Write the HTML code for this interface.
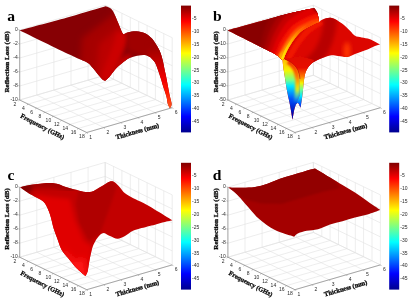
<!DOCTYPE html>
<html lang="en"><head><meta charset="utf-8"><title>Reflection loss 3D plots</title>
<style>html,body{margin:0;padding:0;background:#fff}
svg{display:block;filter:blur(0.4px)}
.tk text{font-family:"Liberation Sans",sans-serif;font-size:5.0px;fill:#2a2a2a}
.ax text{font-family:"Liberation Serif",serif;font-weight:bold;font-size:6.5px;fill:#0a0a0a;stroke:#0a0a0a;stroke-width:0.3px}
.pl{font-family:"Liberation Serif",serif;font-weight:bold;font-size:15.6px;fill:#000}
</style></head><body>
<svg width="409" height="300" viewBox="0 0 409 300">
<defs>
<linearGradient id="jet" x1="0" y1="0" x2="0" y2="1">
<stop offset="0" stop-color="#800000"/>
<stop offset="0.125" stop-color="#ff0000"/>
<stop offset="0.25" stop-color="#ff8000"/>
<stop offset="0.375" stop-color="#ffff00"/>
<stop offset="0.5" stop-color="#80ff80"/>
<stop offset="0.625" stop-color="#00ffff"/>
<stop offset="0.75" stop-color="#0080ff"/>
<stop offset="0.875" stop-color="#0000ff"/>
<stop offset="1" stop-color="#00008f"/>
</linearGradient>
<linearGradient id="tailA" gradientUnits="userSpaceOnUse" x1="0" y1="42" x2="0" y2="108">
<stop offset="0" stop-color="#9a0000" stop-opacity="0"/>
<stop offset="0.15" stop-color="#a80000"/>
<stop offset="0.35" stop-color="#cc0000"/>
<stop offset="0.55" stop-color="#ee0000"/>
<stop offset="0.75" stop-color="#ff1500"/>
<stop offset="1" stop-color="#ff5a20"/>
</linearGradient>
<linearGradient id="gb1" gradientUnits="userSpaceOnUse" x1="228" y1="30" x2="270.3" y2="71.1">
<stop offset="0" stop-color="#800000"/>
<stop offset="0.35" stop-color="#940000"/>
<stop offset="0.6" stop-color="#bc0000"/>
<stop offset="0.78" stop-color="#e40000"/>
<stop offset="0.9" stop-color="#ff2a00"/>
<stop offset="1" stop-color="#ff6000"/>
</linearGradient>
<linearGradient id="gcr" gradientUnits="userSpaceOnUse" x1="283" y1="60" x2="319" y2="22">
<stop offset="0" stop-color="#ffe400"/>
<stop offset="0.3" stop-color="#ffc000"/>
<stop offset="0.55" stop-color="#ff8000"/>
<stop offset="0.8" stop-color="#ff4000" stop-opacity="0.8"/>
<stop offset="1" stop-color="#ff2000" stop-opacity="0.3"/>
</linearGradient>
<linearGradient id="gcr2" gradientUnits="userSpaceOnUse" x1="283" y1="60" x2="319" y2="22">
<stop offset="0" stop-color="#ffa000"/>
<stop offset="0.35" stop-color="#ff8000" stop-opacity="0.85"/>
<stop offset="0.7" stop-color="#ff5000" stop-opacity="0.3"/>
<stop offset="1" stop-color="#ff3000" stop-opacity="0"/>
</linearGradient>
<linearGradient id="gfold" gradientUnits="userSpaceOnUse" x1="0" y1="60" x2="0" y2="104">
<stop offset="0" stop-color="#f02800"/>
<stop offset="0.34" stop-color="#ff6800"/>
<stop offset="0.55" stop-color="#ffc000"/>
<stop offset="0.68" stop-color="#f0f000" stop-opacity="0.9"/>
<stop offset="0.84" stop-color="#70ff90" stop-opacity="0.5"/>
<stop offset="1" stop-color="#00e8ff" stop-opacity="0"/>
</linearGradient>
<linearGradient id="spikeL" gradientUnits="userSpaceOnUse" x1="0" y1="54" x2="0" y2="120">
<stop offset="0" stop-color="#ff9800"/>
<stop offset="0.12" stop-color="#ffc800"/>
<stop offset="0.25" stop-color="#f4f400"/>
<stop offset="0.40" stop-color="#70ff90"/>
<stop offset="0.485" stop-color="#00e8ff"/>
<stop offset="0.68" stop-color="#0050ff"/>
<stop offset="0.93" stop-color="#0000a8"/>
</linearGradient>
<linearGradient id="spikeR" gradientUnits="userSpaceOnUse" x1="0" y1="54" x2="0" y2="120">
<stop offset="0" stop-color="#dc0600"/>
<stop offset="0.21" stop-color="#e81000"/>
<stop offset="0.34" stop-color="#ff7800"/>
<stop offset="0.44" stop-color="#f4f400"/>
<stop offset="0.54" stop-color="#70ff90"/>
<stop offset="0.64" stop-color="#00e8ff"/>
<stop offset="0.76" stop-color="#0050ff"/>
<stop offset="0.92" stop-color="#0000b0"/>
</linearGradient>
<filter id="bb16" x="-30%" y="-30%" width="160%" height="160%"><feGaussianBlur stdDeviation="1.6"/></filter>
<filter id="bb14" x="-30%" y="-30%" width="160%" height="160%"><feGaussianBlur stdDeviation="1.4"/></filter>
<filter id="bb12" x="-30%" y="-30%" width="160%" height="160%"><feGaussianBlur stdDeviation="1.2"/></filter>
<filter id="bb10" x="-30%" y="-30%" width="160%" height="160%"><feGaussianBlur stdDeviation="1.0"/></filter>
<filter id="bb9" x="-30%" y="-30%" width="160%" height="160%"><feGaussianBlur stdDeviation="0.9"/></filter>
<filter id="bb8" x="-30%" y="-30%" width="160%" height="160%"><feGaussianBlur stdDeviation="0.8"/></filter>
<filter id="bb7" x="-30%" y="-30%" width="160%" height="160%"><feGaussianBlur stdDeviation="0.7"/></filter>
<filter id="b05" x="-20%" y="-20%" width="140%" height="140%"><feGaussianBlur stdDeviation="0.5"/></filter>
<filter id="b1" x="-20%" y="-20%" width="140%" height="140%"><feGaussianBlur stdDeviation="1"/></filter>
<filter id="b2" x="-30%" y="-30%" width="160%" height="160%"><feGaussianBlur stdDeviation="2"/></filter>
<filter id="b3" x="-40%" y="-40%" width="180%" height="180%"><feGaussianBlur stdDeviation="3"/></filter>
<filter id="b4" x="-50%" y="-50%" width="200%" height="200%"><feGaussianBlur stdDeviation="4"/></filter>
</defs>
<rect width="409" height="300" fill="#fff"/>
<g transform="translate(0 0)">
<g fill="none" stroke-linecap="butt">
<line x1="19.7" y1="30" x2="105.2" y2="5.2" stroke="#e0e0e0" stroke-width="0.6"/>
<line x1="105.2" y1="5.2" x2="172.2" y2="37.7" stroke="#e0e0e0" stroke-width="0.6"/>
<line x1="19.7" y1="44" x2="105.2" y2="19.2" stroke="#e0e0e0" stroke-width="0.6"/>
<line x1="105.2" y1="19.2" x2="172.2" y2="51.7" stroke="#e0e0e0" stroke-width="0.6"/>
<line x1="19.7" y1="58" x2="105.2" y2="33.2" stroke="#e0e0e0" stroke-width="0.6"/>
<line x1="105.2" y1="33.2" x2="172.2" y2="65.7" stroke="#e0e0e0" stroke-width="0.6"/>
<line x1="19.7" y1="72" x2="105.2" y2="47.2" stroke="#e0e0e0" stroke-width="0.6"/>
<line x1="105.2" y1="47.2" x2="172.2" y2="79.7" stroke="#e0e0e0" stroke-width="0.6"/>
<line x1="19.7" y1="86" x2="105.2" y2="61.2" stroke="#e0e0e0" stroke-width="0.6"/>
<line x1="105.2" y1="61.2" x2="172.2" y2="93.7" stroke="#e0e0e0" stroke-width="0.6"/>
<line x1="19.7" y1="100" x2="105.2" y2="75.2" stroke="#e0e0e0" stroke-width="0.6"/>
<line x1="105.2" y1="75.2" x2="172.2" y2="107.7" stroke="#e0e0e0" stroke-width="0.6"/>
<line x1="19.7" y1="30" x2="19.7" y2="100" stroke="#e0e0e0" stroke-width="0.6"/>
<line x1="19.7" y1="100" x2="86.7" y2="132.5" stroke="#e0e0e0" stroke-width="0.6"/>
<line x1="36.8" y1="25" x2="36.8" y2="95" stroke="#e0e0e0" stroke-width="0.6"/>
<line x1="36.8" y1="95" x2="103.8" y2="127.5" stroke="#e0e0e0" stroke-width="0.6"/>
<line x1="53.9" y1="20.1" x2="53.9" y2="90.1" stroke="#e0e0e0" stroke-width="0.6"/>
<line x1="53.9" y1="90.1" x2="120.9" y2="122.6" stroke="#e0e0e0" stroke-width="0.6"/>
<line x1="71" y1="15.1" x2="71" y2="85.1" stroke="#e0e0e0" stroke-width="0.6"/>
<line x1="71" y1="85.1" x2="138" y2="117.6" stroke="#e0e0e0" stroke-width="0.6"/>
<line x1="88.1" y1="10.2" x2="88.1" y2="80.2" stroke="#e0e0e0" stroke-width="0.6"/>
<line x1="88.1" y1="80.2" x2="155.1" y2="112.7" stroke="#e0e0e0" stroke-width="0.6"/>
<line x1="105.2" y1="5.2" x2="105.2" y2="75.2" stroke="#e0e0e0" stroke-width="0.6"/>
<line x1="105.2" y1="75.2" x2="172.2" y2="107.7" stroke="#e0e0e0" stroke-width="0.6"/>
<line x1="105.2" y1="5.2" x2="105.2" y2="75.2" stroke="#e0e0e0" stroke-width="0.6"/>
<line x1="19.7" y1="100" x2="105.2" y2="75.2" stroke="#e0e0e0" stroke-width="0.6"/>
<line x1="113.6" y1="9.3" x2="113.6" y2="79.3" stroke="#e0e0e0" stroke-width="0.6"/>
<line x1="28.1" y1="104.1" x2="113.6" y2="79.3" stroke="#e0e0e0" stroke-width="0.6"/>
<line x1="121.9" y1="13.3" x2="121.9" y2="83.3" stroke="#e0e0e0" stroke-width="0.6"/>
<line x1="36.5" y1="108.1" x2="121.9" y2="83.3" stroke="#e0e0e0" stroke-width="0.6"/>
<line x1="130.3" y1="17.4" x2="130.3" y2="87.4" stroke="#e0e0e0" stroke-width="0.6"/>
<line x1="44.8" y1="112.2" x2="130.3" y2="87.4" stroke="#e0e0e0" stroke-width="0.6"/>
<line x1="138.7" y1="21.5" x2="138.7" y2="91.5" stroke="#e0e0e0" stroke-width="0.6"/>
<line x1="53.2" y1="116.2" x2="138.7" y2="91.5" stroke="#e0e0e0" stroke-width="0.6"/>
<line x1="147.1" y1="25.5" x2="147.1" y2="95.5" stroke="#e0e0e0" stroke-width="0.6"/>
<line x1="61.6" y1="120.3" x2="147.1" y2="95.5" stroke="#e0e0e0" stroke-width="0.6"/>
<line x1="155.4" y1="29.6" x2="155.4" y2="99.6" stroke="#e0e0e0" stroke-width="0.6"/>
<line x1="70" y1="124.4" x2="155.4" y2="99.6" stroke="#e0e0e0" stroke-width="0.6"/>
<line x1="163.8" y1="33.6" x2="163.8" y2="103.6" stroke="#e0e0e0" stroke-width="0.6"/>
<line x1="78.3" y1="128.4" x2="163.8" y2="103.6" stroke="#e0e0e0" stroke-width="0.6"/>
<line x1="172.2" y1="37.7" x2="172.2" y2="107.7" stroke="#e0e0e0" stroke-width="0.6"/>
<line x1="86.7" y1="132.5" x2="172.2" y2="107.7" stroke="#e0e0e0" stroke-width="0.6"/>
<line x1="19.7" y1="30" x2="19.7" y2="100" stroke="#868686" stroke-width="0.7"/>
<line x1="19.7" y1="100" x2="86.7" y2="132.5" stroke="#868686" stroke-width="0.7"/>
<line x1="86.7" y1="132.5" x2="172.2" y2="107.7" stroke="#868686" stroke-width="0.7"/>
<line x1="18.2" y1="29.5" x2="19.7" y2="30" stroke="#868686" stroke-width="0.5"/>
<line x1="18.2" y1="43.5" x2="19.7" y2="44" stroke="#868686" stroke-width="0.5"/>
<line x1="18.2" y1="57.5" x2="19.7" y2="58" stroke="#868686" stroke-width="0.5"/>
<line x1="18.2" y1="71.5" x2="19.7" y2="72" stroke="#868686" stroke-width="0.5"/>
<line x1="18.2" y1="85.5" x2="19.7" y2="86" stroke="#868686" stroke-width="0.5"/>
<line x1="18.2" y1="99.5" x2="19.7" y2="100" stroke="#868686" stroke-width="0.5"/>
<line x1="19.7" y1="100" x2="18.4" y2="101" stroke="#868686" stroke-width="0.5"/>
<line x1="28.1" y1="104.1" x2="26.8" y2="105.1" stroke="#868686" stroke-width="0.5"/>
<line x1="36.5" y1="108.1" x2="35.2" y2="109.1" stroke="#868686" stroke-width="0.5"/>
<line x1="44.8" y1="112.2" x2="43.5" y2="113.2" stroke="#868686" stroke-width="0.5"/>
<line x1="53.2" y1="116.2" x2="51.9" y2="117.2" stroke="#868686" stroke-width="0.5"/>
<line x1="61.6" y1="120.3" x2="60.3" y2="121.3" stroke="#868686" stroke-width="0.5"/>
<line x1="70" y1="124.4" x2="68.7" y2="125.4" stroke="#868686" stroke-width="0.5"/>
<line x1="78.3" y1="128.4" x2="77" y2="129.4" stroke="#868686" stroke-width="0.5"/>
<line x1="86.7" y1="132.5" x2="85.4" y2="133.5" stroke="#868686" stroke-width="0.5"/>
<line x1="86.7" y1="132.5" x2="87.9" y2="133.7" stroke="#868686" stroke-width="0.5"/>
<line x1="103.8" y1="127.5" x2="105" y2="128.7" stroke="#868686" stroke-width="0.5"/>
<line x1="120.9" y1="122.6" x2="122.1" y2="123.8" stroke="#868686" stroke-width="0.5"/>
<line x1="138" y1="117.6" x2="139.2" y2="118.8" stroke="#868686" stroke-width="0.5"/>
<line x1="155.1" y1="112.7" x2="156.3" y2="113.9" stroke="#868686" stroke-width="0.5"/>
<line x1="172.2" y1="107.7" x2="173.4" y2="108.9" stroke="#868686" stroke-width="0.5"/>
</g>
<g class="tk">
<text x="17.7" y="31.3" text-anchor="end">0</text>
<text x="17.7" y="45.3" text-anchor="end">-2</text>
<text x="17.7" y="59.3" text-anchor="end">-4</text>
<text x="17.7" y="73.3" text-anchor="end">-6</text>
<text x="17.7" y="87.3" text-anchor="end">-8</text>
<text x="17.7" y="101.3" text-anchor="end">-10</text>
<text x="14.9" y="105.8" text-anchor="middle">2</text>
<text x="23.3" y="109.9" text-anchor="middle">4</text>
<text x="31.7" y="113.9" text-anchor="middle">6</text>
<text x="40" y="118" text-anchor="middle">8</text>
<text x="48.4" y="122" text-anchor="middle">10</text>
<text x="56.8" y="126.1" text-anchor="middle">12</text>
<text x="65.2" y="130.2" text-anchor="middle">14</text>
<text x="73.5" y="134.2" text-anchor="middle">16</text>
<text x="81.9" y="138.3" text-anchor="middle">18</text>
<text x="90.7" y="138.7" text-anchor="middle">1</text>
<text x="107.8" y="133.7" text-anchor="middle">2</text>
<text x="124.9" y="128.8" text-anchor="middle">3</text>
<text x="142" y="123.8" text-anchor="middle">4</text>
<text x="159.1" y="118.9" text-anchor="middle">5</text>
<text x="176.2" y="113.9" text-anchor="middle">6</text>
</g>
<g class="ax">
<text transform="translate(9.3 61.8) rotate(-90)" text-anchor="middle" style="font-size:7.1px">Reflection Loss (dB)</text>
<text transform="translate(41.5 128.5) rotate(27.5)" text-anchor="middle">Frequency (GHz)</text>
<text transform="translate(138 133.2) rotate(-16)" text-anchor="middle">Thickness (mm)</text>
</g>
<rect x="181" y="5.6" width="10" height="126.8" fill="url(#jet)"/>
<g class="tk">
<text x="192.1" y="19.7">-5</text>
<text x="192.1" y="32.6">-10</text>
<text x="192.1" y="45.6">-15</text>
<text x="192.1" y="58.5">-20</text>
<text x="192.1" y="71.5">-25</text>
<text x="192.1" y="84.4">-30</text>
<text x="192.1" y="97.4">-35</text>
<text x="192.1" y="110.3">-40</text>
<text x="192.1" y="123.3">-45</text>
</g>
</g>
<g transform="translate(208.2 0)">
<g fill="none" stroke-linecap="butt">
<line x1="19.7" y1="30" x2="105.2" y2="5.2" stroke="#e0e0e0" stroke-width="0.6"/>
<line x1="105.2" y1="5.2" x2="172.2" y2="37.7" stroke="#e0e0e0" stroke-width="0.6"/>
<line x1="19.7" y1="44" x2="105.2" y2="19.2" stroke="#e0e0e0" stroke-width="0.6"/>
<line x1="105.2" y1="19.2" x2="172.2" y2="51.7" stroke="#e0e0e0" stroke-width="0.6"/>
<line x1="19.7" y1="58" x2="105.2" y2="33.2" stroke="#e0e0e0" stroke-width="0.6"/>
<line x1="105.2" y1="33.2" x2="172.2" y2="65.7" stroke="#e0e0e0" stroke-width="0.6"/>
<line x1="19.7" y1="72" x2="105.2" y2="47.2" stroke="#e0e0e0" stroke-width="0.6"/>
<line x1="105.2" y1="47.2" x2="172.2" y2="79.7" stroke="#e0e0e0" stroke-width="0.6"/>
<line x1="19.7" y1="86" x2="105.2" y2="61.2" stroke="#e0e0e0" stroke-width="0.6"/>
<line x1="105.2" y1="61.2" x2="172.2" y2="93.7" stroke="#e0e0e0" stroke-width="0.6"/>
<line x1="19.7" y1="100" x2="105.2" y2="75.2" stroke="#e0e0e0" stroke-width="0.6"/>
<line x1="105.2" y1="75.2" x2="172.2" y2="107.7" stroke="#e0e0e0" stroke-width="0.6"/>
<line x1="19.7" y1="30" x2="19.7" y2="100" stroke="#e0e0e0" stroke-width="0.6"/>
<line x1="19.7" y1="100" x2="86.7" y2="132.5" stroke="#e0e0e0" stroke-width="0.6"/>
<line x1="36.8" y1="25" x2="36.8" y2="95" stroke="#e0e0e0" stroke-width="0.6"/>
<line x1="36.8" y1="95" x2="103.8" y2="127.5" stroke="#e0e0e0" stroke-width="0.6"/>
<line x1="53.9" y1="20.1" x2="53.9" y2="90.1" stroke="#e0e0e0" stroke-width="0.6"/>
<line x1="53.9" y1="90.1" x2="120.9" y2="122.6" stroke="#e0e0e0" stroke-width="0.6"/>
<line x1="71" y1="15.1" x2="71" y2="85.1" stroke="#e0e0e0" stroke-width="0.6"/>
<line x1="71" y1="85.1" x2="138" y2="117.6" stroke="#e0e0e0" stroke-width="0.6"/>
<line x1="88.1" y1="10.2" x2="88.1" y2="80.2" stroke="#e0e0e0" stroke-width="0.6"/>
<line x1="88.1" y1="80.2" x2="155.1" y2="112.7" stroke="#e0e0e0" stroke-width="0.6"/>
<line x1="105.2" y1="5.2" x2="105.2" y2="75.2" stroke="#e0e0e0" stroke-width="0.6"/>
<line x1="105.2" y1="75.2" x2="172.2" y2="107.7" stroke="#e0e0e0" stroke-width="0.6"/>
<line x1="105.2" y1="5.2" x2="105.2" y2="75.2" stroke="#e0e0e0" stroke-width="0.6"/>
<line x1="19.7" y1="100" x2="105.2" y2="75.2" stroke="#e0e0e0" stroke-width="0.6"/>
<line x1="113.6" y1="9.3" x2="113.6" y2="79.3" stroke="#e0e0e0" stroke-width="0.6"/>
<line x1="28.1" y1="104.1" x2="113.6" y2="79.3" stroke="#e0e0e0" stroke-width="0.6"/>
<line x1="121.9" y1="13.3" x2="121.9" y2="83.3" stroke="#e0e0e0" stroke-width="0.6"/>
<line x1="36.5" y1="108.1" x2="121.9" y2="83.3" stroke="#e0e0e0" stroke-width="0.6"/>
<line x1="130.3" y1="17.4" x2="130.3" y2="87.4" stroke="#e0e0e0" stroke-width="0.6"/>
<line x1="44.8" y1="112.2" x2="130.3" y2="87.4" stroke="#e0e0e0" stroke-width="0.6"/>
<line x1="138.7" y1="21.5" x2="138.7" y2="91.5" stroke="#e0e0e0" stroke-width="0.6"/>
<line x1="53.2" y1="116.2" x2="138.7" y2="91.5" stroke="#e0e0e0" stroke-width="0.6"/>
<line x1="147.1" y1="25.5" x2="147.1" y2="95.5" stroke="#e0e0e0" stroke-width="0.6"/>
<line x1="61.6" y1="120.3" x2="147.1" y2="95.5" stroke="#e0e0e0" stroke-width="0.6"/>
<line x1="155.4" y1="29.6" x2="155.4" y2="99.6" stroke="#e0e0e0" stroke-width="0.6"/>
<line x1="70" y1="124.4" x2="155.4" y2="99.6" stroke="#e0e0e0" stroke-width="0.6"/>
<line x1="163.8" y1="33.6" x2="163.8" y2="103.6" stroke="#e0e0e0" stroke-width="0.6"/>
<line x1="78.3" y1="128.4" x2="163.8" y2="103.6" stroke="#e0e0e0" stroke-width="0.6"/>
<line x1="172.2" y1="37.7" x2="172.2" y2="107.7" stroke="#e0e0e0" stroke-width="0.6"/>
<line x1="86.7" y1="132.5" x2="172.2" y2="107.7" stroke="#e0e0e0" stroke-width="0.6"/>
<line x1="19.7" y1="30" x2="19.7" y2="100" stroke="#868686" stroke-width="0.7"/>
<line x1="19.7" y1="100" x2="86.7" y2="132.5" stroke="#868686" stroke-width="0.7"/>
<line x1="86.7" y1="132.5" x2="172.2" y2="107.7" stroke="#868686" stroke-width="0.7"/>
<line x1="18.2" y1="29.5" x2="19.7" y2="30" stroke="#868686" stroke-width="0.5"/>
<line x1="18.2" y1="43.5" x2="19.7" y2="44" stroke="#868686" stroke-width="0.5"/>
<line x1="18.2" y1="57.5" x2="19.7" y2="58" stroke="#868686" stroke-width="0.5"/>
<line x1="18.2" y1="71.5" x2="19.7" y2="72" stroke="#868686" stroke-width="0.5"/>
<line x1="18.2" y1="85.5" x2="19.7" y2="86" stroke="#868686" stroke-width="0.5"/>
<line x1="18.2" y1="99.5" x2="19.7" y2="100" stroke="#868686" stroke-width="0.5"/>
<line x1="19.7" y1="100" x2="18.4" y2="101" stroke="#868686" stroke-width="0.5"/>
<line x1="28.1" y1="104.1" x2="26.8" y2="105.1" stroke="#868686" stroke-width="0.5"/>
<line x1="36.5" y1="108.1" x2="35.2" y2="109.1" stroke="#868686" stroke-width="0.5"/>
<line x1="44.8" y1="112.2" x2="43.5" y2="113.2" stroke="#868686" stroke-width="0.5"/>
<line x1="53.2" y1="116.2" x2="51.9" y2="117.2" stroke="#868686" stroke-width="0.5"/>
<line x1="61.6" y1="120.3" x2="60.3" y2="121.3" stroke="#868686" stroke-width="0.5"/>
<line x1="70" y1="124.4" x2="68.7" y2="125.4" stroke="#868686" stroke-width="0.5"/>
<line x1="78.3" y1="128.4" x2="77" y2="129.4" stroke="#868686" stroke-width="0.5"/>
<line x1="86.7" y1="132.5" x2="85.4" y2="133.5" stroke="#868686" stroke-width="0.5"/>
<line x1="86.7" y1="132.5" x2="87.9" y2="133.7" stroke="#868686" stroke-width="0.5"/>
<line x1="103.8" y1="127.5" x2="105" y2="128.7" stroke="#868686" stroke-width="0.5"/>
<line x1="120.9" y1="122.6" x2="122.1" y2="123.8" stroke="#868686" stroke-width="0.5"/>
<line x1="138" y1="117.6" x2="139.2" y2="118.8" stroke="#868686" stroke-width="0.5"/>
<line x1="155.1" y1="112.7" x2="156.3" y2="113.9" stroke="#868686" stroke-width="0.5"/>
<line x1="172.2" y1="107.7" x2="173.4" y2="108.9" stroke="#868686" stroke-width="0.5"/>
</g>
<g class="tk">
<text x="17.7" y="31.3" text-anchor="end">0</text>
<text x="17.7" y="45.3" text-anchor="end">-10</text>
<text x="17.7" y="59.3" text-anchor="end">-20</text>
<text x="17.7" y="73.3" text-anchor="end">-30</text>
<text x="17.7" y="87.3" text-anchor="end">-40</text>
<text x="17.7" y="101.3" text-anchor="end">-50</text>
<text x="14.9" y="105.8" text-anchor="middle">2</text>
<text x="23.3" y="109.9" text-anchor="middle">4</text>
<text x="31.7" y="113.9" text-anchor="middle">6</text>
<text x="40" y="118" text-anchor="middle">8</text>
<text x="48.4" y="122" text-anchor="middle">10</text>
<text x="56.8" y="126.1" text-anchor="middle">12</text>
<text x="65.2" y="130.2" text-anchor="middle">14</text>
<text x="73.5" y="134.2" text-anchor="middle">16</text>
<text x="81.9" y="138.3" text-anchor="middle">18</text>
<text x="90.7" y="138.7" text-anchor="middle">1</text>
<text x="107.8" y="133.7" text-anchor="middle">2</text>
<text x="124.9" y="128.8" text-anchor="middle">3</text>
<text x="142" y="123.8" text-anchor="middle">4</text>
<text x="159.1" y="118.9" text-anchor="middle">5</text>
<text x="176.2" y="113.9" text-anchor="middle">6</text>
</g>
<g class="ax">
<text transform="translate(9.3 61.8) rotate(-90)" text-anchor="middle" style="font-size:7.1px">Reflection Loss (dB)</text>
<text transform="translate(41.5 128.5) rotate(27.5)" text-anchor="middle">Frequency (GHz)</text>
<text transform="translate(138 133.2) rotate(-16)" text-anchor="middle">Thickness (mm)</text>
</g>
<rect x="181" y="5.6" width="10" height="126.8" fill="url(#jet)"/>
<g class="tk">
<text x="192.1" y="19.7">-5</text>
<text x="192.1" y="32.6">-10</text>
<text x="192.1" y="45.6">-15</text>
<text x="192.1" y="58.5">-20</text>
<text x="192.1" y="71.5">-25</text>
<text x="192.1" y="84.4">-30</text>
<text x="192.1" y="97.4">-35</text>
<text x="192.1" y="110.3">-40</text>
<text x="192.1" y="123.3">-45</text>
</g>
</g>
<g transform="translate(0 157.2)">
<g fill="none" stroke-linecap="butt">
<line x1="19.7" y1="30" x2="105.2" y2="5.2" stroke="#e0e0e0" stroke-width="0.6"/>
<line x1="105.2" y1="5.2" x2="172.2" y2="37.7" stroke="#e0e0e0" stroke-width="0.6"/>
<line x1="19.7" y1="44" x2="105.2" y2="19.2" stroke="#e0e0e0" stroke-width="0.6"/>
<line x1="105.2" y1="19.2" x2="172.2" y2="51.7" stroke="#e0e0e0" stroke-width="0.6"/>
<line x1="19.7" y1="58" x2="105.2" y2="33.2" stroke="#e0e0e0" stroke-width="0.6"/>
<line x1="105.2" y1="33.2" x2="172.2" y2="65.7" stroke="#e0e0e0" stroke-width="0.6"/>
<line x1="19.7" y1="72" x2="105.2" y2="47.2" stroke="#e0e0e0" stroke-width="0.6"/>
<line x1="105.2" y1="47.2" x2="172.2" y2="79.7" stroke="#e0e0e0" stroke-width="0.6"/>
<line x1="19.7" y1="86" x2="105.2" y2="61.2" stroke="#e0e0e0" stroke-width="0.6"/>
<line x1="105.2" y1="61.2" x2="172.2" y2="93.7" stroke="#e0e0e0" stroke-width="0.6"/>
<line x1="19.7" y1="100" x2="105.2" y2="75.2" stroke="#e0e0e0" stroke-width="0.6"/>
<line x1="105.2" y1="75.2" x2="172.2" y2="107.7" stroke="#e0e0e0" stroke-width="0.6"/>
<line x1="19.7" y1="30" x2="19.7" y2="100" stroke="#e0e0e0" stroke-width="0.6"/>
<line x1="19.7" y1="100" x2="86.7" y2="132.5" stroke="#e0e0e0" stroke-width="0.6"/>
<line x1="36.8" y1="25" x2="36.8" y2="95" stroke="#e0e0e0" stroke-width="0.6"/>
<line x1="36.8" y1="95" x2="103.8" y2="127.5" stroke="#e0e0e0" stroke-width="0.6"/>
<line x1="53.9" y1="20.1" x2="53.9" y2="90.1" stroke="#e0e0e0" stroke-width="0.6"/>
<line x1="53.9" y1="90.1" x2="120.9" y2="122.6" stroke="#e0e0e0" stroke-width="0.6"/>
<line x1="71" y1="15.1" x2="71" y2="85.1" stroke="#e0e0e0" stroke-width="0.6"/>
<line x1="71" y1="85.1" x2="138" y2="117.6" stroke="#e0e0e0" stroke-width="0.6"/>
<line x1="88.1" y1="10.2" x2="88.1" y2="80.2" stroke="#e0e0e0" stroke-width="0.6"/>
<line x1="88.1" y1="80.2" x2="155.1" y2="112.7" stroke="#e0e0e0" stroke-width="0.6"/>
<line x1="105.2" y1="5.2" x2="105.2" y2="75.2" stroke="#e0e0e0" stroke-width="0.6"/>
<line x1="105.2" y1="75.2" x2="172.2" y2="107.7" stroke="#e0e0e0" stroke-width="0.6"/>
<line x1="105.2" y1="5.2" x2="105.2" y2="75.2" stroke="#e0e0e0" stroke-width="0.6"/>
<line x1="19.7" y1="100" x2="105.2" y2="75.2" stroke="#e0e0e0" stroke-width="0.6"/>
<line x1="113.6" y1="9.3" x2="113.6" y2="79.3" stroke="#e0e0e0" stroke-width="0.6"/>
<line x1="28.1" y1="104.1" x2="113.6" y2="79.3" stroke="#e0e0e0" stroke-width="0.6"/>
<line x1="121.9" y1="13.3" x2="121.9" y2="83.3" stroke="#e0e0e0" stroke-width="0.6"/>
<line x1="36.5" y1="108.1" x2="121.9" y2="83.3" stroke="#e0e0e0" stroke-width="0.6"/>
<line x1="130.3" y1="17.4" x2="130.3" y2="87.4" stroke="#e0e0e0" stroke-width="0.6"/>
<line x1="44.8" y1="112.2" x2="130.3" y2="87.4" stroke="#e0e0e0" stroke-width="0.6"/>
<line x1="138.7" y1="21.5" x2="138.7" y2="91.5" stroke="#e0e0e0" stroke-width="0.6"/>
<line x1="53.2" y1="116.2" x2="138.7" y2="91.5" stroke="#e0e0e0" stroke-width="0.6"/>
<line x1="147.1" y1="25.5" x2="147.1" y2="95.5" stroke="#e0e0e0" stroke-width="0.6"/>
<line x1="61.6" y1="120.3" x2="147.1" y2="95.5" stroke="#e0e0e0" stroke-width="0.6"/>
<line x1="155.4" y1="29.6" x2="155.4" y2="99.6" stroke="#e0e0e0" stroke-width="0.6"/>
<line x1="70" y1="124.4" x2="155.4" y2="99.6" stroke="#e0e0e0" stroke-width="0.6"/>
<line x1="163.8" y1="33.6" x2="163.8" y2="103.6" stroke="#e0e0e0" stroke-width="0.6"/>
<line x1="78.3" y1="128.4" x2="163.8" y2="103.6" stroke="#e0e0e0" stroke-width="0.6"/>
<line x1="172.2" y1="37.7" x2="172.2" y2="107.7" stroke="#e0e0e0" stroke-width="0.6"/>
<line x1="86.7" y1="132.5" x2="172.2" y2="107.7" stroke="#e0e0e0" stroke-width="0.6"/>
<line x1="19.7" y1="30" x2="19.7" y2="100" stroke="#868686" stroke-width="0.7"/>
<line x1="19.7" y1="100" x2="86.7" y2="132.5" stroke="#868686" stroke-width="0.7"/>
<line x1="86.7" y1="132.5" x2="172.2" y2="107.7" stroke="#868686" stroke-width="0.7"/>
<line x1="18.2" y1="29.5" x2="19.7" y2="30" stroke="#868686" stroke-width="0.5"/>
<line x1="18.2" y1="43.5" x2="19.7" y2="44" stroke="#868686" stroke-width="0.5"/>
<line x1="18.2" y1="57.5" x2="19.7" y2="58" stroke="#868686" stroke-width="0.5"/>
<line x1="18.2" y1="71.5" x2="19.7" y2="72" stroke="#868686" stroke-width="0.5"/>
<line x1="18.2" y1="85.5" x2="19.7" y2="86" stroke="#868686" stroke-width="0.5"/>
<line x1="18.2" y1="99.5" x2="19.7" y2="100" stroke="#868686" stroke-width="0.5"/>
<line x1="19.7" y1="100" x2="18.4" y2="101" stroke="#868686" stroke-width="0.5"/>
<line x1="28.1" y1="104.1" x2="26.8" y2="105.1" stroke="#868686" stroke-width="0.5"/>
<line x1="36.5" y1="108.1" x2="35.2" y2="109.1" stroke="#868686" stroke-width="0.5"/>
<line x1="44.8" y1="112.2" x2="43.5" y2="113.2" stroke="#868686" stroke-width="0.5"/>
<line x1="53.2" y1="116.2" x2="51.9" y2="117.2" stroke="#868686" stroke-width="0.5"/>
<line x1="61.6" y1="120.3" x2="60.3" y2="121.3" stroke="#868686" stroke-width="0.5"/>
<line x1="70" y1="124.4" x2="68.7" y2="125.4" stroke="#868686" stroke-width="0.5"/>
<line x1="78.3" y1="128.4" x2="77" y2="129.4" stroke="#868686" stroke-width="0.5"/>
<line x1="86.7" y1="132.5" x2="85.4" y2="133.5" stroke="#868686" stroke-width="0.5"/>
<line x1="86.7" y1="132.5" x2="87.9" y2="133.7" stroke="#868686" stroke-width="0.5"/>
<line x1="103.8" y1="127.5" x2="105" y2="128.7" stroke="#868686" stroke-width="0.5"/>
<line x1="120.9" y1="122.6" x2="122.1" y2="123.8" stroke="#868686" stroke-width="0.5"/>
<line x1="138" y1="117.6" x2="139.2" y2="118.8" stroke="#868686" stroke-width="0.5"/>
<line x1="155.1" y1="112.7" x2="156.3" y2="113.9" stroke="#868686" stroke-width="0.5"/>
<line x1="172.2" y1="107.7" x2="173.4" y2="108.9" stroke="#868686" stroke-width="0.5"/>
</g>
<g class="tk">
<text x="17.7" y="31.3" text-anchor="end">0</text>
<text x="17.7" y="45.3" text-anchor="end">-2</text>
<text x="17.7" y="59.3" text-anchor="end">-4</text>
<text x="17.7" y="73.3" text-anchor="end">-6</text>
<text x="17.7" y="87.3" text-anchor="end">-8</text>
<text x="17.7" y="101.3" text-anchor="end">-10</text>
<text x="14.9" y="105.8" text-anchor="middle">2</text>
<text x="23.3" y="109.9" text-anchor="middle">4</text>
<text x="31.7" y="113.9" text-anchor="middle">6</text>
<text x="40" y="118" text-anchor="middle">8</text>
<text x="48.4" y="122" text-anchor="middle">10</text>
<text x="56.8" y="126.1" text-anchor="middle">12</text>
<text x="65.2" y="130.2" text-anchor="middle">14</text>
<text x="73.5" y="134.2" text-anchor="middle">16</text>
<text x="81.9" y="138.3" text-anchor="middle">18</text>
<text x="90.7" y="138.7" text-anchor="middle">1</text>
<text x="107.8" y="133.7" text-anchor="middle">2</text>
<text x="124.9" y="128.8" text-anchor="middle">3</text>
<text x="142" y="123.8" text-anchor="middle">4</text>
<text x="159.1" y="118.9" text-anchor="middle">5</text>
<text x="176.2" y="113.9" text-anchor="middle">6</text>
</g>
<g class="ax">
<text transform="translate(9.3 61.8) rotate(-90)" text-anchor="middle" style="font-size:7.1px">Reflection Loss (dB)</text>
<text transform="translate(41.5 128.5) rotate(27.5)" text-anchor="middle">Frequency (GHz)</text>
<text transform="translate(138 133.2) rotate(-16)" text-anchor="middle">Thickness (mm)</text>
</g>
<rect x="181" y="5.6" width="10" height="126.8" fill="url(#jet)"/>
<g class="tk">
<text x="192.1" y="19.7">-5</text>
<text x="192.1" y="32.6">-10</text>
<text x="192.1" y="45.6">-15</text>
<text x="192.1" y="58.5">-20</text>
<text x="192.1" y="71.5">-25</text>
<text x="192.1" y="84.4">-30</text>
<text x="192.1" y="97.4">-35</text>
<text x="192.1" y="110.3">-40</text>
<text x="192.1" y="123.3">-45</text>
</g>
</g>
<g transform="translate(208.2 157.2)">
<g fill="none" stroke-linecap="butt">
<line x1="19.7" y1="30" x2="105.2" y2="5.2" stroke="#e0e0e0" stroke-width="0.6"/>
<line x1="105.2" y1="5.2" x2="172.2" y2="37.7" stroke="#e0e0e0" stroke-width="0.6"/>
<line x1="19.7" y1="44" x2="105.2" y2="19.2" stroke="#e0e0e0" stroke-width="0.6"/>
<line x1="105.2" y1="19.2" x2="172.2" y2="51.7" stroke="#e0e0e0" stroke-width="0.6"/>
<line x1="19.7" y1="58" x2="105.2" y2="33.2" stroke="#e0e0e0" stroke-width="0.6"/>
<line x1="105.2" y1="33.2" x2="172.2" y2="65.7" stroke="#e0e0e0" stroke-width="0.6"/>
<line x1="19.7" y1="72" x2="105.2" y2="47.2" stroke="#e0e0e0" stroke-width="0.6"/>
<line x1="105.2" y1="47.2" x2="172.2" y2="79.7" stroke="#e0e0e0" stroke-width="0.6"/>
<line x1="19.7" y1="86" x2="105.2" y2="61.2" stroke="#e0e0e0" stroke-width="0.6"/>
<line x1="105.2" y1="61.2" x2="172.2" y2="93.7" stroke="#e0e0e0" stroke-width="0.6"/>
<line x1="19.7" y1="100" x2="105.2" y2="75.2" stroke="#e0e0e0" stroke-width="0.6"/>
<line x1="105.2" y1="75.2" x2="172.2" y2="107.7" stroke="#e0e0e0" stroke-width="0.6"/>
<line x1="19.7" y1="30" x2="19.7" y2="100" stroke="#e0e0e0" stroke-width="0.6"/>
<line x1="19.7" y1="100" x2="86.7" y2="132.5" stroke="#e0e0e0" stroke-width="0.6"/>
<line x1="36.8" y1="25" x2="36.8" y2="95" stroke="#e0e0e0" stroke-width="0.6"/>
<line x1="36.8" y1="95" x2="103.8" y2="127.5" stroke="#e0e0e0" stroke-width="0.6"/>
<line x1="53.9" y1="20.1" x2="53.9" y2="90.1" stroke="#e0e0e0" stroke-width="0.6"/>
<line x1="53.9" y1="90.1" x2="120.9" y2="122.6" stroke="#e0e0e0" stroke-width="0.6"/>
<line x1="71" y1="15.1" x2="71" y2="85.1" stroke="#e0e0e0" stroke-width="0.6"/>
<line x1="71" y1="85.1" x2="138" y2="117.6" stroke="#e0e0e0" stroke-width="0.6"/>
<line x1="88.1" y1="10.2" x2="88.1" y2="80.2" stroke="#e0e0e0" stroke-width="0.6"/>
<line x1="88.1" y1="80.2" x2="155.1" y2="112.7" stroke="#e0e0e0" stroke-width="0.6"/>
<line x1="105.2" y1="5.2" x2="105.2" y2="75.2" stroke="#e0e0e0" stroke-width="0.6"/>
<line x1="105.2" y1="75.2" x2="172.2" y2="107.7" stroke="#e0e0e0" stroke-width="0.6"/>
<line x1="105.2" y1="5.2" x2="105.2" y2="75.2" stroke="#e0e0e0" stroke-width="0.6"/>
<line x1="19.7" y1="100" x2="105.2" y2="75.2" stroke="#e0e0e0" stroke-width="0.6"/>
<line x1="113.6" y1="9.3" x2="113.6" y2="79.3" stroke="#e0e0e0" stroke-width="0.6"/>
<line x1="28.1" y1="104.1" x2="113.6" y2="79.3" stroke="#e0e0e0" stroke-width="0.6"/>
<line x1="121.9" y1="13.3" x2="121.9" y2="83.3" stroke="#e0e0e0" stroke-width="0.6"/>
<line x1="36.5" y1="108.1" x2="121.9" y2="83.3" stroke="#e0e0e0" stroke-width="0.6"/>
<line x1="130.3" y1="17.4" x2="130.3" y2="87.4" stroke="#e0e0e0" stroke-width="0.6"/>
<line x1="44.8" y1="112.2" x2="130.3" y2="87.4" stroke="#e0e0e0" stroke-width="0.6"/>
<line x1="138.7" y1="21.5" x2="138.7" y2="91.5" stroke="#e0e0e0" stroke-width="0.6"/>
<line x1="53.2" y1="116.2" x2="138.7" y2="91.5" stroke="#e0e0e0" stroke-width="0.6"/>
<line x1="147.1" y1="25.5" x2="147.1" y2="95.5" stroke="#e0e0e0" stroke-width="0.6"/>
<line x1="61.6" y1="120.3" x2="147.1" y2="95.5" stroke="#e0e0e0" stroke-width="0.6"/>
<line x1="155.4" y1="29.6" x2="155.4" y2="99.6" stroke="#e0e0e0" stroke-width="0.6"/>
<line x1="70" y1="124.4" x2="155.4" y2="99.6" stroke="#e0e0e0" stroke-width="0.6"/>
<line x1="163.8" y1="33.6" x2="163.8" y2="103.6" stroke="#e0e0e0" stroke-width="0.6"/>
<line x1="78.3" y1="128.4" x2="163.8" y2="103.6" stroke="#e0e0e0" stroke-width="0.6"/>
<line x1="172.2" y1="37.7" x2="172.2" y2="107.7" stroke="#e0e0e0" stroke-width="0.6"/>
<line x1="86.7" y1="132.5" x2="172.2" y2="107.7" stroke="#e0e0e0" stroke-width="0.6"/>
<line x1="19.7" y1="30" x2="19.7" y2="100" stroke="#868686" stroke-width="0.7"/>
<line x1="19.7" y1="100" x2="86.7" y2="132.5" stroke="#868686" stroke-width="0.7"/>
<line x1="86.7" y1="132.5" x2="172.2" y2="107.7" stroke="#868686" stroke-width="0.7"/>
<line x1="18.2" y1="29.5" x2="19.7" y2="30" stroke="#868686" stroke-width="0.5"/>
<line x1="18.2" y1="43.5" x2="19.7" y2="44" stroke="#868686" stroke-width="0.5"/>
<line x1="18.2" y1="57.5" x2="19.7" y2="58" stroke="#868686" stroke-width="0.5"/>
<line x1="18.2" y1="71.5" x2="19.7" y2="72" stroke="#868686" stroke-width="0.5"/>
<line x1="18.2" y1="85.5" x2="19.7" y2="86" stroke="#868686" stroke-width="0.5"/>
<line x1="18.2" y1="99.5" x2="19.7" y2="100" stroke="#868686" stroke-width="0.5"/>
<line x1="19.7" y1="100" x2="18.4" y2="101" stroke="#868686" stroke-width="0.5"/>
<line x1="28.1" y1="104.1" x2="26.8" y2="105.1" stroke="#868686" stroke-width="0.5"/>
<line x1="36.5" y1="108.1" x2="35.2" y2="109.1" stroke="#868686" stroke-width="0.5"/>
<line x1="44.8" y1="112.2" x2="43.5" y2="113.2" stroke="#868686" stroke-width="0.5"/>
<line x1="53.2" y1="116.2" x2="51.9" y2="117.2" stroke="#868686" stroke-width="0.5"/>
<line x1="61.6" y1="120.3" x2="60.3" y2="121.3" stroke="#868686" stroke-width="0.5"/>
<line x1="70" y1="124.4" x2="68.7" y2="125.4" stroke="#868686" stroke-width="0.5"/>
<line x1="78.3" y1="128.4" x2="77" y2="129.4" stroke="#868686" stroke-width="0.5"/>
<line x1="86.7" y1="132.5" x2="85.4" y2="133.5" stroke="#868686" stroke-width="0.5"/>
<line x1="86.7" y1="132.5" x2="87.9" y2="133.7" stroke="#868686" stroke-width="0.5"/>
<line x1="103.8" y1="127.5" x2="105" y2="128.7" stroke="#868686" stroke-width="0.5"/>
<line x1="120.9" y1="122.6" x2="122.1" y2="123.8" stroke="#868686" stroke-width="0.5"/>
<line x1="138" y1="117.6" x2="139.2" y2="118.8" stroke="#868686" stroke-width="0.5"/>
<line x1="155.1" y1="112.7" x2="156.3" y2="113.9" stroke="#868686" stroke-width="0.5"/>
<line x1="172.2" y1="107.7" x2="173.4" y2="108.9" stroke="#868686" stroke-width="0.5"/>
</g>
<g class="tk">
<text x="17.7" y="31.3" text-anchor="end">0</text>
<text x="17.7" y="45.3" text-anchor="end">-2</text>
<text x="17.7" y="59.3" text-anchor="end">-4</text>
<text x="17.7" y="73.3" text-anchor="end">-6</text>
<text x="17.7" y="87.3" text-anchor="end">-8</text>
<text x="17.7" y="101.3" text-anchor="end">-10</text>
<text x="14.9" y="105.8" text-anchor="middle">2</text>
<text x="23.3" y="109.9" text-anchor="middle">4</text>
<text x="31.7" y="113.9" text-anchor="middle">6</text>
<text x="40" y="118" text-anchor="middle">8</text>
<text x="48.4" y="122" text-anchor="middle">10</text>
<text x="56.8" y="126.1" text-anchor="middle">12</text>
<text x="65.2" y="130.2" text-anchor="middle">14</text>
<text x="73.5" y="134.2" text-anchor="middle">16</text>
<text x="81.9" y="138.3" text-anchor="middle">18</text>
<text x="90.7" y="138.7" text-anchor="middle">1</text>
<text x="107.8" y="133.7" text-anchor="middle">2</text>
<text x="124.9" y="128.8" text-anchor="middle">3</text>
<text x="142" y="123.8" text-anchor="middle">4</text>
<text x="159.1" y="118.9" text-anchor="middle">5</text>
<text x="176.2" y="113.9" text-anchor="middle">6</text>
</g>
<g class="ax">
<text transform="translate(9.3 61.8) rotate(-90)" text-anchor="middle" style="font-size:7.1px">Reflection Loss (dB)</text>
<text transform="translate(41.5 128.5) rotate(27.5)" text-anchor="middle">Frequency (GHz)</text>
<text transform="translate(138 133.2) rotate(-16)" text-anchor="middle">Thickness (mm)</text>
</g>
<rect x="181" y="5.6" width="10" height="126.8" fill="url(#jet)"/>
<g class="tk">
<text x="192.1" y="19.7">-5</text>
<text x="192.1" y="32.6">-10</text>
<text x="192.1" y="45.6">-15</text>
<text x="192.1" y="58.5">-20</text>
<text x="192.1" y="71.5">-25</text>
<text x="192.1" y="84.4">-30</text>
<text x="192.1" y="97.4">-35</text>
<text x="192.1" y="110.3">-40</text>
<text x="192.1" y="123.3">-45</text>
</g>
</g>
<clipPath id="ca"><path d="M20 30.2C28.3 27.9 55.7 20.7 70 16.7C84.3 12.7 99.8 8 105.8 6.3C106.4 6.5 108.2 6.9 109.5 7.8C110.8 8.7 111.8 9.1 113.3 11.7C114.8 14.3 116.9 20 118.3 23.3C119.7 26.6 120.8 29.8 121.7 31.7C122.6 33.6 123.3 34.1 123.6 34.6C124.4 34.2 126.1 32.8 128.3 32.3C130.5 31.7 133.9 31.1 136.7 31.3C139.5 31.5 142.5 32.1 145 33.3C147.5 34.5 149.9 36.6 151.7 38.3C153.4 40 154.2 41.5 155.5 43.5C156.8 45.5 158.3 47.8 159.5 50.5C160.7 53.2 161.6 56.2 162.5 59.5C163.4 62.8 164 66.8 164.7 70C165.4 73.2 165.8 74.8 166.6 79C167.4 83.2 168.8 90.8 169.6 95C170.4 99.2 171.5 101.8 171.6 104C171.7 106.2 170.2 107.6 169.9 108.3C169.6 107.6 168.4 105.9 167.8 104C167.2 102.1 167.3 99.9 166.5 96.7C165.7 93.5 163.6 88 162.7 85C161.8 82 161.8 81.5 161 79C160.2 76.5 159 72.8 158 70C157 67.2 156.2 64.6 155 62.5C153.8 60.4 151.2 58.1 150.5 57.2C149.5 56.8 146.8 55.2 144.5 55C142.2 54.8 139.5 55.2 137 55.7C134.5 56.2 132 56.8 129.5 58C127 59.2 124.2 61.5 122 63.2C119.8 65 118 66.4 116 68.5C114 70.6 111.7 74 110 76C108.3 78 106.3 79.8 105.6 80.6C105.2 80.5 104.5 80.9 103.3 80C102.1 79.1 100.4 77.2 98.5 75C96.6 72.8 93.7 68.8 91.7 66.7C89.7 64.6 90.3 64.3 86.7 62.3C83.1 60.3 81.1 60.1 70 54.8C58.9 49.5 28.3 34.5 20 30.4Z"/></clipPath>
<path d="M20 30.2C28.3 27.9 55.7 20.7 70 16.7C84.3 12.7 99.8 8 105.8 6.3C106.4 6.5 108.2 6.9 109.5 7.8C110.8 8.7 111.8 9.1 113.3 11.7C114.8 14.3 116.9 20 118.3 23.3C119.7 26.6 120.8 29.8 121.7 31.7C122.6 33.6 123.3 34.1 123.6 34.6C124.4 34.2 126.1 32.8 128.3 32.3C130.5 31.7 133.9 31.1 136.7 31.3C139.5 31.5 142.5 32.1 145 33.3C147.5 34.5 149.9 36.6 151.7 38.3C153.4 40 154.2 41.5 155.5 43.5C156.8 45.5 158.3 47.8 159.5 50.5C160.7 53.2 161.6 56.2 162.5 59.5C163.4 62.8 164 66.8 164.7 70C165.4 73.2 165.8 74.8 166.6 79C167.4 83.2 168.8 90.8 169.6 95C170.4 99.2 171.5 101.8 171.6 104C171.7 106.2 170.2 107.6 169.9 108.3C169.6 107.6 168.4 105.9 167.8 104C167.2 102.1 167.3 99.9 166.5 96.7C165.7 93.5 163.6 88 162.7 85C161.8 82 161.8 81.5 161 79C160.2 76.5 159 72.8 158 70C157 67.2 156.2 64.6 155 62.5C153.8 60.4 151.2 58.1 150.5 57.2C149.5 56.8 146.8 55.2 144.5 55C142.2 54.8 139.5 55.2 137 55.7C134.5 56.2 132 56.8 129.5 58C127 59.2 124.2 61.5 122 63.2C119.8 65 118 66.4 116 68.5C114 70.6 111.7 74 110 76C108.3 78 106.3 79.8 105.6 80.6C105.2 80.5 104.5 80.9 103.3 80C102.1 79.1 100.4 77.2 98.5 75C96.6 72.8 93.7 68.8 91.7 66.7C89.7 64.6 90.3 64.3 86.7 62.3C83.1 60.3 81.1 60.1 70 54.8C58.9 49.5 28.3 34.5 20 30.4Z" fill="#870004"/>
<g clip-path="url(#ca)">
<path d="M119 10 L82 38 L80 70 L106 88 L128 40 Z" fill="#a60000" filter="url(#b3)"/>
<path d="M122 24 L99 44 L96 76 L106 86 L126 38 Z" fill="#bc0000" filter="url(#b3)"/>
<path d="M122.5 33 C119 48 112 62 105.6 80" fill="none" stroke="#cc0000" stroke-width="11" filter="url(#b2)"/>
<path d="M108 82 L118 60 L132 52 L128 66 Z" fill="#c40000" filter="url(#b2)"/>
<path d="M126 30 L150 30 L164 56 L150 60 L128 50 Z" fill="#a00000" filter="url(#b2)"/>
<path d="M146 40 L168 40 L180 112 L158 112 Z" fill="url(#tailA)" filter="url(#b1)"/>
</g>
<clipPath id="cb"><path d="M228 30.2C234.2 28.5 254.7 22.8 265 20C275.3 17.2 281.8 15.3 290 13.3C298.2 11.3 310.2 8.9 314.2 8C314.8 8.9 316.7 10.9 317.5 13.3C318.3 15.7 318.7 20.8 318.9 22.3C319.6 21.8 321.2 19.9 323.3 19.2C325.4 18.5 328.6 17.3 331.7 18C334.8 18.7 338.6 21.2 341.7 23.3C344.8 25.4 347.8 28.7 350 30.8C352.2 32.9 353.1 34.7 355 35.8C356.9 36.9 359.2 36.9 361.7 37.5C364.2 38.1 366.9 38.1 370 39.2C373.1 40.4 378.3 43.5 380 44.4C379.2 44.7 377.1 45.1 375 46C372.9 46.9 370.8 48.2 367.5 49.5C364.2 50.8 358.3 52.8 355 54C351.7 55.2 350.3 56.7 347.5 57C344.7 57.3 340.9 56.2 338 56C335.1 55.8 333.4 54.8 330 55.5C326.6 56.2 320.8 58.4 317.5 60C314.2 61.6 311.9 63 310 65C308.1 67 306.8 69.2 305.8 71.7C304.8 74.2 304.5 77 304 80C303.5 83 303.3 87 303 90C302.7 93 302.4 95 302 98C301.6 101 300.8 106.2 300.5 107.8C300.1 107 298.8 103.5 298 103C297.2 102.5 296.2 104.2 295.8 104.5C295.5 105.4 294.8 107.5 294.2 110C293.6 112.5 292.8 118.2 292.5 119.8C292.1 117.3 290.8 109.4 290 105C289.2 100.6 288.3 97.5 287.5 93.3C286.7 89.1 285.9 83.9 285.3 80C284.7 76.1 284.2 73.3 283.7 70C283.2 66.7 282.7 61.7 282.5 60C281.2 59 277.9 55.8 275 54C272.1 52.2 272.8 52.9 265 49C257.2 45.1 234.2 33.5 228 30.4Z"/></clipPath>
<clipPath id="cbL"><path d="M228 30.2C234.2 28.5 254.7 22.8 265 20C275.3 17.2 281.8 15.3 290 13.3C298.2 11.3 310.2 8.9 314.2 8C314.8 8.9 316.7 10.9 317.5 13.3C318.3 15.7 318.7 20.8 318.9 22.3C318.2 22.5 316.9 22.8 315 23.7C313.1 24.6 310 26 307.5 27.5C305 29 302.3 30.4 300 32.5C297.7 34.6 295.8 37.1 293.7 40C291.6 42.9 289.2 46.9 287.5 50C285.8 53.1 284.5 57 283.7 58.7C282.9 60.4 282.7 59.8 282.5 60C281.2 59 277.9 55.8 275 54C272.1 52.2 272.8 52.9 265 49C257.2 45.1 234.2 33.5 228 30.4Z"/></clipPath>
<path d="M228 30.2C234.2 28.5 254.7 22.8 265 20C275.3 17.2 281.8 15.3 290 13.3C298.2 11.3 310.2 8.9 314.2 8C314.8 8.9 316.7 10.9 317.5 13.3C318.3 15.7 318.7 20.8 318.9 22.3C319.6 21.8 321.2 19.9 323.3 19.2C325.4 18.5 328.6 17.3 331.7 18C334.8 18.7 338.6 21.2 341.7 23.3C344.8 25.4 347.8 28.7 350 30.8C352.2 32.9 353.1 34.7 355 35.8C356.9 36.9 359.2 36.9 361.7 37.5C364.2 38.1 366.9 38.1 370 39.2C373.1 40.4 378.3 43.5 380 44.4C379.2 44.7 377.1 45.1 375 46C372.9 46.9 370.8 48.2 367.5 49.5C364.2 50.8 358.3 52.8 355 54C351.7 55.2 350.3 56.7 347.5 57C344.7 57.3 340.9 56.2 338 56C335.1 55.8 333.4 54.8 330 55.5C326.6 56.2 320.8 58.4 317.5 60C314.2 61.6 311.9 63 310 65C308.1 67 306.8 69.2 305.8 71.7C304.8 74.2 304.5 77 304 80C303.5 83 303.3 87 303 90C302.7 93 302.4 95 302 98C301.6 101 300.8 106.2 300.5 107.8C300.1 107 298.8 103.5 298 103C297.2 102.5 296.2 104.2 295.8 104.5C295.5 105.4 294.8 107.5 294.2 110C293.6 112.5 292.8 118.2 292.5 119.8C292.1 117.3 290.8 109.4 290 105C289.2 100.6 288.3 97.5 287.5 93.3C286.7 89.1 285.9 83.9 285.3 80C284.7 76.1 284.2 73.3 283.7 70C283.2 66.7 282.7 61.7 282.5 60C281.2 59 277.9 55.8 275 54C272.1 52.2 272.8 52.9 265 49C257.2 45.1 234.2 33.5 228 30.4Z" fill="#dc0600"/>
<g clip-path="url(#cb)">
<path d="M331 13 C330 28 328 42 318 56 L306 68" fill="none" stroke="#b80000" stroke-width="13" filter="url(#b2)"/>
<ellipse cx="347" cy="51" rx="3.6" ry="9" fill="#ff3600" filter="url(#b2)"/>
<path d="M322 22 C310 27 298 39 288 60" fill="none" stroke="#f01400" stroke-width="6" filter="url(#b1)"/>
<path d="M280 56 L284.7 59.2 C291 61.5 299 66 300 79 L299.5 96 L296 106 L298 125 L284 125 Z" fill="url(#spikeL)"/>
<path d="M288 61.5 C293 64 297 68.5 297.8 80 L297.3 93 L296 103" fill="none" stroke="url(#gfold)" stroke-width="5" filter="url(#bb10)"/>
<path d="M284.7 59.2 C291 61.5 299 66 300 79 L299.5 96 L295.5 106 L303 112 L307 80 L314 60 L300 56 Z" fill="url(#spikeR)" filter="url(#b05)"/>
<path d="M284.7 59.2 C291 61.5 299 66 300 79" fill="none" stroke="#b00000" stroke-opacity="0.6" stroke-width="0.8" filter="url(#b05)"/>
</g>
<g clip-path="url(#cbL)">
<rect x="225" y="0" width="100" height="70" fill="#890000"/>
<path d="M281.5 70L281.8 69.4L282.3 68.6L282.8 67.6L283.4 66.6L284 65.5L284.6 64.5L285.1 63.7L285.5 63L285.8 62.6L285.9 62.4L286 62.4L286.1 62.5L286.2 62.5L286.3 62.4L286.4 62.2L286.7 61.7L287 61L287.4 60.1L287.8 59L288.3 57.9L288.8 56.7L289.3 55.4L289.9 54.2L290.5 53L291.2 51.8L291.9 50.5L292.6 49.2L293.4 47.9L294.3 46.6L295.1 45.4L295.9 44.1L296.7 43L297.5 41.9L298.2 40.9L299 39.9L299.8 38.9L300.5 38L301.3 37.1L302.2 36.3L303 35.5L303.9 34.7L304.8 34L305.7 33.4L306.7 32.8L307.6 32.2L308.6 31.6L309.6 31.1L310.5 30.5L311.5 30L312.5 29.4L313.5 28.9L314.5 28.4L315.5 27.9L316.4 27.5L317.2 27.1L318 26.7L318.7 26.4L319.2 26.2L319.7 26L320.1 25.9L320.5 25.8L320.9 25.6L321.4 25.5L321.9 25.3L322.5 25.1L323.2 24.8L323.9 24.5L324.6 24.2L325.3 23.9L326 23.7L326.5 23.5L326.9 23.3L296 -6.8L295.8 -6.5L295.3 -6.2L294.8 -5.8L294.2 -5.4L293.6 -5L293 -4.6L292.4 -4.3L291.9 -3.9L291.5 -3.6L291.2 -3.4L290.9 -3.1L290.6 -2.9L290.3 -2.7L289.9 -2.4L289.5 -2.1L288.9 -1.7L288.3 -1.2L287.5 -0.7L286.7 -0.1L285.8 0.4L284.9 1.1L284 1.7L283.1 2.3L282.3 3L281.5 3.7L280.6 4.3L279.8 5L278.9 5.7L278.1 6.4L277.3 7.2L276.5 8L275.7 8.9L274.9 9.8L274.2 10.7L273.6 11.7L272.9 12.7L272.2 13.8L271.6 14.9L270.9 16L270.3 17.2L269.6 18.5L268.9 19.8L268.2 21.2L267.5 22.6L266.8 24L266.1 25.4L265.5 26.8L265 28.1L264.5 29.4L264 30.7L263.6 32.1L263.2 33.4L262.8 34.7L262.5 35.8L262.3 36.8L262 37.6L261.9 38.2L261.8 38.6L261.8 38.7L261.9 38.8L261.9 38.9L261.9 39L261.9 39.3L261.7 39.8L261.4 40.6L261 41.5L260.6 42.6L260.1 43.8L259.6 45L259.2 46.1L258.8 47L258.6 47.7Z" fill="#960000" filter="url(#bb16)"/>
<path d="M281.5 70L281.8 69.4L282.3 68.6L282.8 67.6L283.4 66.6L284 65.5L284.6 64.5L285.1 63.7L285.5 63L285.8 62.6L285.9 62.4L286 62.4L286.1 62.5L286.2 62.5L286.3 62.4L286.4 62.2L286.7 61.7L287 61L287.4 60.1L287.8 59L288.3 57.9L288.8 56.7L289.3 55.4L289.9 54.2L290.5 53L291.2 51.8L291.9 50.5L292.6 49.2L293.4 47.9L294.3 46.6L295.1 45.4L295.9 44.1L296.7 43L297.5 41.9L298.2 40.9L299 39.9L299.8 38.9L300.5 38L301.3 37.1L302.2 36.3L303 35.5L303.9 34.7L304.8 34L305.7 33.4L306.7 32.8L307.6 32.2L308.6 31.6L309.6 31.1L310.5 30.5L311.5 30L312.5 29.4L313.5 28.9L314.5 28.4L315.5 27.9L316.4 27.5L317.2 27.1L318 26.7L318.7 26.4L319.2 26.2L319.7 26L320.1 25.9L320.5 25.8L320.9 25.6L321.4 25.5L321.9 25.3L322.5 25.1L323.2 24.8L323.9 24.5L324.6 24.2L325.3 23.9L326 23.7L326.5 23.5L326.9 23.3L301.3 -1.7L301 -1.4L300.6 -1.1L300 -0.8L299.4 -0.4L298.8 0L298.1 0.4L297.5 0.7L297 1L296.6 1.3L296.2 1.6L295.9 1.8L295.6 2L295.3 2.2L294.9 2.5L294.4 2.8L293.8 3.1L293.2 3.6L292.4 4.1L291.6 4.6L290.7 5.2L289.8 5.8L288.8 6.4L287.9 7L287.1 7.6L286.2 8.3L285.3 8.9L284.5 9.6L283.6 10.3L282.7 11L281.9 11.7L281.1 12.5L280.3 13.3L279.5 14.2L278.8 15.1L278.1 16.1L277.4 17.1L276.7 18.2L276.1 19.2L275.4 20.4L274.7 21.5L274 22.8L273.3 24.1L272.5 25.4L271.8 26.8L271.1 28.2L270.4 29.6L269.8 30.9L269.2 32.2L268.7 33.5L268.2 34.8L267.8 36.2L267.4 37.5L267 38.7L266.7 39.8L266.4 40.8L266.1 41.6L266 42.2L265.9 42.5L265.9 42.7L265.9 42.7L265.9 42.8L265.9 42.9L265.8 43.1L265.7 43.6L265.3 44.4L264.9 45.3L264.4 46.4L263.9 47.6L263.4 48.7L263 49.8L262.6 50.7L262.4 51.3Z" fill="#ac0000" filter="url(#bb14)"/>
<path d="M281.5 70L281.8 69.4L282.3 68.6L282.8 67.6L283.4 66.6L284 65.5L284.6 64.5L285.1 63.7L285.5 63L285.8 62.6L285.9 62.4L286 62.4L286.1 62.5L286.2 62.5L286.3 62.4L286.4 62.2L286.7 61.7L287 61L287.4 60.1L287.8 59L288.3 57.9L288.8 56.7L289.3 55.4L289.9 54.2L290.5 53L291.2 51.8L291.9 50.5L292.6 49.2L293.4 47.9L294.3 46.6L295.1 45.4L295.9 44.1L296.7 43L297.5 41.9L298.2 40.9L299 39.9L299.8 38.9L300.5 38L301.3 37.1L302.2 36.3L303 35.5L303.9 34.7L304.8 34L305.7 33.4L306.7 32.8L307.6 32.2L308.6 31.6L309.6 31.1L310.5 30.5L311.5 30L312.5 29.4L313.5 28.9L314.5 28.4L315.5 27.9L316.4 27.5L317.2 27.1L318 26.7L318.7 26.4L319.2 26.2L319.7 26L320.1 25.9L320.5 25.8L320.9 25.6L321.4 25.5L321.9 25.3L322.5 25.1L323.2 24.8L323.9 24.5L324.6 24.2L325.3 23.9L326 23.7L326.5 23.5L326.9 23.3L305.8 2.7L305.5 3L305.1 3.2L304.5 3.6L303.9 3.9L303.2 4.3L302.6 4.6L301.9 5L301.4 5.3L301 5.6L300.6 5.8L300.2 6L299.9 6.2L299.5 6.4L299.1 6.6L298.7 6.9L298.1 7.3L297.4 7.7L296.6 8.1L295.7 8.7L294.8 9.2L293.9 9.8L293 10.4L292 11L291.2 11.6L290.3 12.2L289.4 12.9L288.5 13.5L287.6 14.2L286.7 14.8L285.9 15.6L285 16.3L284.2 17.2L283.5 18L282.7 18.9L282 19.9L281.3 20.9L280.6 21.9L279.9 23L279.2 24.1L278.5 25.2L277.8 26.4L277 27.7L276.3 29.1L275.5 30.4L274.8 31.8L274.1 33.2L273.5 34.5L272.9 35.8L272.3 37.1L271.8 38.4L271.4 39.7L270.9 41L270.6 42.2L270.2 43.3L269.9 44.2L269.6 45L269.5 45.6L269.4 45.9L269.3 46L269.3 46.1L269.3 46.1L269.3 46.2L269.2 46.4L269 46.9L268.7 47.6L268.3 48.5L267.8 49.6L267.2 50.8L266.7 51.9L266.2 52.9L265.9 53.8L265.6 54.5Z" fill="#c60000" filter="url(#bb12)"/>
<path d="M281.5 70L281.8 69.4L282.3 68.6L282.8 67.6L283.4 66.6L284 65.5L284.6 64.5L285.1 63.7L285.5 63L285.8 62.6L285.9 62.4L286 62.4L286.1 62.5L286.2 62.5L286.3 62.4L286.4 62.2L286.7 61.7L287 61L287.4 60.1L287.8 59L288.3 57.9L288.8 56.7L289.3 55.4L289.9 54.2L290.5 53L291.2 51.8L291.9 50.5L292.6 49.2L293.4 47.9L294.3 46.6L295.1 45.4L295.9 44.1L296.7 43L297.5 41.9L298.2 40.9L299 39.9L299.8 38.9L300.5 38L301.3 37.1L302.2 36.3L303 35.5L303.9 34.7L304.8 34L305.7 33.4L306.7 32.8L307.6 32.2L308.6 31.6L309.6 31.1L310.5 30.5L311.5 30L312.5 29.4L313.5 28.9L314.5 28.4L315.5 27.9L316.4 27.5L317.2 27.1L318 26.7L318.7 26.4L319.2 26.2L319.7 26L320.1 25.9L320.5 25.8L320.9 25.6L321.4 25.5L321.9 25.3L322.5 25.1L323.2 24.8L323.9 24.5L324.6 24.2L325.3 23.9L326 23.7L326.5 23.5L326.9 23.3L310.6 7.3L310.2 7.5L309.7 7.8L309.1 8.1L308.5 8.4L307.8 8.8L307.1 9.1L306.5 9.4L305.9 9.7L305.5 9.9L305.1 10.1L304.7 10.3L304.3 10.5L303.9 10.6L303.5 10.9L303 11.1L302.4 11.5L301.7 11.9L300.9 12.3L300 12.8L299.1 13.3L298.1 13.9L297.1 14.4L296.2 15L295.3 15.6L294.4 16.2L293.5 16.8L292.5 17.4L291.6 18.1L290.7 18.7L289.8 19.4L289 20.2L288.1 21L287.3 21.8L286.6 22.7L285.8 23.6L285.1 24.6L284.4 25.6L283.7 26.6L282.9 27.7L282.2 28.8L281.5 30L280.7 31.3L279.9 32.6L279.1 33.9L278.4 35.3L277.7 36.6L277 37.9L276.4 39.2L275.8 40.4L275.3 41.7L274.8 43L274.4 44.3L273.9 45.5L273.6 46.5L273.2 47.5L273 48.3L272.7 48.8L272.6 49.1L272.6 49.2L272.6 49.2L272.5 49.2L272.5 49.3L272.3 49.5L272.1 49.9L271.8 50.6L271.3 51.5L270.8 52.6L270.2 53.7L269.7 54.8L269.2 55.8L268.8 56.7L268.5 57.3Z" fill="#e00000" filter="url(#bb10)"/>
<path d="M281.5 70L281.8 69.4L282.3 68.6L282.8 67.6L283.4 66.6L284 65.5L284.6 64.5L285.1 63.7L285.5 63L285.8 62.6L285.9 62.4L286 62.4L286.1 62.5L286.2 62.5L286.3 62.4L286.4 62.2L286.7 61.7L287 61L287.4 60.1L287.8 59L288.3 57.9L288.8 56.7L289.3 55.4L289.9 54.2L290.5 53L291.2 51.8L291.9 50.5L292.6 49.2L293.4 47.9L294.3 46.6L295.1 45.4L295.9 44.1L296.7 43L297.5 41.9L298.2 40.9L299 39.9L299.8 38.9L300.5 38L301.3 37.1L302.2 36.3L303 35.5L303.9 34.7L304.8 34L305.7 33.4L306.7 32.8L307.6 32.2L308.6 31.6L309.6 31.1L310.5 30.5L311.5 30L312.5 29.4L313.5 28.9L314.5 28.4L315.5 27.9L316.4 27.5L317.2 27.1L318 26.7L318.7 26.4L319.2 26.2L319.7 26L320.1 25.9L320.5 25.8L320.9 25.6L321.4 25.5L321.9 25.3L322.5 25.1L323.2 24.8L323.9 24.5L324.6 24.2L325.3 23.9L326 23.7L326.5 23.5L326.9 23.3L316.9 13.5L316.5 13.6L315.9 13.8L315.3 14.1L314.6 14.4L313.9 14.6L313.1 14.9L312.4 15.2L311.8 15.4L311.3 15.6L310.8 15.7L310.4 15.9L310 16L309.6 16.1L309.1 16.3L308.5 16.5L307.9 16.8L307.1 17.1L306.2 17.5L305.3 17.9L304.3 18.4L303.3 18.9L302.3 19.4L301.3 20L300.3 20.5L299.4 21.1L298.4 21.6L297.4 22.2L296.5 22.7L295.5 23.4L294.6 24L293.6 24.7L292.8 25.5L291.9 26.2L291.1 27.1L290.3 28L289.5 28.9L288.7 29.8L287.9 30.8L287.2 31.8L286.4 32.9L285.6 34L284.8 35.2L283.9 36.5L283.1 37.8L282.3 39.1L281.5 40.4L280.8 41.6L280.1 42.8L279.5 44L278.9 45.3L278.4 46.5L277.9 47.7L277.4 48.8L277 49.9L276.6 50.8L276.3 51.5L276 52L275.9 52.2L275.7 52.2L275.7 52.2L275.6 52.2L275.5 52.2L275.3 52.4L275 52.7L274.6 53.4L274.1 54.2L273.5 55.2L272.9 56.3L272.3 57.3L271.8 58.3L271.3 59.1L271 59.7Z" fill="#f81800" filter="url(#bb9)"/>
<path d="M281.5 70L281.8 69.4L282.3 68.6L282.8 67.6L283.4 66.6L284 65.5L284.6 64.5L285.1 63.7L285.5 63L285.8 62.6L285.9 62.4L286 62.4L286.1 62.5L286.2 62.5L286.3 62.4L286.4 62.2L286.7 61.7L287 61L287.4 60.1L287.8 59L288.3 57.9L288.8 56.7L289.3 55.4L289.9 54.2L290.5 53L291.2 51.8L291.9 50.5L292.6 49.2L293.4 47.9L294.3 46.6L295.1 45.4L295.9 44.1L296.7 43L297.5 41.9L298.2 40.9L299 39.9L299.8 38.9L300.5 38L301.3 37.1L302.2 36.3L303 35.5L303.9 34.7L304.8 34L305.7 33.4L306.7 32.8L307.6 32.2L308.6 31.6L309.6 31.1L310.5 30.5L311.5 30L312.5 29.4L313.5 28.9L314.5 28.4L315.5 27.9L316.4 27.5L317.2 27.1L318 26.7L318.7 26.4L319.2 26.2L319.7 26L320.1 25.9L320.5 25.8L320.9 25.6L321.4 25.5L321.9 25.3L322.5 25.1L323.2 24.8L323.9 24.5L324.6 24.2L325.3 23.9L326 23.7L326.5 23.5L326.9 23.3L321 17.5L320.6 17.6L320 17.8L319.4 18L318.6 18.3L317.9 18.5L317.1 18.8L316.4 19L315.8 19.2L315.2 19.4L314.7 19.5L314.3 19.6L313.8 19.7L313.4 19.8L312.8 19.9L312.3 20.1L311.6 20.4L310.8 20.7L309.9 21.1L308.9 21.5L307.9 21.9L306.9 22.4L305.8 22.9L304.8 23.4L303.8 23.9L302.8 24.4L301.8 24.9L300.8 25.5L299.8 26L298.8 26.6L297.9 27.2L296.9 27.9L296 28.6L295.1 29.4L294.3 30.2L293.5 31L292.6 31.9L291.8 32.9L291 33.8L290.2 34.8L289.4 35.9L288.6 37L287.8 38.1L286.9 39.4L286 40.6L285.2 41.9L284.4 43.2L283.7 44.4L283 45.6L282.3 46.8L281.7 48L281.1 49.2L280.6 50.3L280.1 51.5L279.7 52.5L279.2 53.3L278.9 54L278.6 54.5L278.4 54.7L278.3 54.7L278.2 54.6L278 54.6L277.9 54.6L277.7 54.7L277.4 55L277 55.7L276.4 56.5L275.8 57.5L275.2 58.5L274.6 59.5L274 60.4L273.5 61.2L273.1 61.8Z" fill="#ff4800" filter="url(#bb8)"/>
<path d="M281.5 70L281.8 69.4L282.3 68.6L282.8 67.6L283.4 66.6L284 65.5L284.6 64.5L285.1 63.7L285.5 63L285.8 62.6L285.9 62.4L286 62.4L286.1 62.5L286.2 62.5L286.3 62.4L286.4 62.2L286.7 61.7L287 61L287.4 60.1L287.8 59L288.3 57.9L288.8 56.7L289.3 55.4L289.9 54.2L290.5 53L291.2 51.8L291.9 50.5L292.6 49.2L293.4 47.9L294.3 46.6L295.1 45.4L295.9 44.1L296.7 43L297.5 41.9L298.2 40.9L299 39.9L299.8 38.9L300.5 38L301.3 37.1L302.2 36.3L303 35.5L303.9 34.7L304.8 34L305.7 33.4L306.7 32.8L307.6 32.2L308.6 31.6L309.6 31.1L310.5 30.5L311.5 30L312.5 29.4L313.5 28.9L314.5 28.4L315.5 27.9L316.4 27.5L317.2 27.1L318 26.7L318.7 26.4L319.2 26.2L319.7 26L320.1 25.9L320.5 25.8L320.9 25.6L321.4 25.5L321.9 25.3L322.5 25.1L323.2 24.8L323.9 24.5L324.6 24.2L325.3 23.9L326 23.7L326.5 23.5L326.9 23.3L322.9 19.4L322.5 19.5L321.9 19.7L321.3 19.9L320.5 20.1L319.8 20.4L319 20.6L318.3 20.9L317.6 21.1L317.1 21.2L316.6 21.3L316.1 21.4L315.7 21.5L315.2 21.6L314.7 21.7L314.1 21.9L313.4 22.2L312.6 22.5L311.7 22.9L310.8 23.3L309.8 23.7L308.7 24.2L307.7 24.7L306.6 25.2L305.6 25.7L304.6 26.2L303.7 26.7L302.7 27.3L301.7 27.8L300.7 28.4L299.7 29L298.8 29.7L297.8 30.4L297 31.2L296.1 32L295.3 32.8L294.5 33.7L293.6 34.6L292.8 35.6L292 36.6L291.2 37.6L290.4 38.7L289.5 39.9L288.7 41.1L287.8 42.4L287 43.7L286.2 44.9L285.4 46.1L284.7 47.3L284.1 48.5L283.5 49.7L282.9 50.9L282.4 52.1L281.9 53.2L281.4 54.2L281 55L280.6 55.7L280.3 56.2L280.1 56.4L280 56.4L279.9 56.3L279.8 56.3L279.7 56.3L279.4 56.4L279.1 56.7L278.7 57.3L278.2 58.2L277.6 59.1L276.9 60.2L276.3 61.2L275.7 62.1L275.2 62.9L274.8 63.4Z" fill="#ff7a00" filter="url(#bb7)"/>
<circle cx="284" cy="56.5" r="4.5" fill="#ffc400" filter="url(#bb16)"/>
<path d="M318.9 22.3C318.2 22.5 316.9 22.8 315 23.7C313.1 24.6 310 26 307.5 27.5C305 29 302.3 30.4 300 32.5C297.7 34.6 295.8 37.1 293.7 40C291.6 42.9 289.2 46.9 287.5 50C285.8 53.1 284.5 57 283.7 58.7C282.9 60.4 282.7 59.8 282.5 60" fill="none" stroke="url(#gcr2)" stroke-width="9" filter="url(#bb10)"/>
<path d="M318.9 22.3C318.2 22.5 316.9 22.8 315 23.7C313.1 24.6 310 26 307.5 27.5C305 29 302.3 30.4 300 32.5C297.7 34.6 295.8 37.1 293.7 40C291.6 42.9 289.2 46.9 287.5 50C285.8 53.1 284.5 57 283.7 58.7C282.9 60.4 282.7 59.8 282.5 60" fill="none" stroke="url(#gcr)" stroke-width="5" filter="url(#bb7)"/>
</g>
<clipPath id="cc"><path d="M20.5 187.2C22.4 186.8 27.1 185.4 31.7 184.7C36.3 184 44.1 183.2 48.3 183C52.5 182.8 53.9 183.2 56.7 183.8C59.5 184.4 62 185.8 65 186.7C68 187.6 72 188.7 75 189.5C78 190.3 80.5 191.3 83.3 191.7C86.1 192.1 89.5 192.1 91.7 191.7C93.9 191.3 94.5 190.4 96.7 189.2C98.9 187.9 102.7 185.5 105 184.2C107.3 182.9 109.1 181.6 110.8 181.3C112.5 181 113.5 181.5 115 182.5C116.5 183.5 118.3 185.7 120 187.5C121.7 189.3 122.8 191.5 125 193.3C127.2 195.1 130.3 196.7 133.3 198.3C136.3 199.9 139.4 200.9 143 202.8C146.6 204.7 150.1 206.8 155 209.7C159.9 212.6 169.5 218.4 172.4 220.2C170.8 220.6 165.4 221.8 162.5 222.5C159.6 223.2 158.8 223.7 155 224.7C151.2 225.7 143.8 227.4 140 228.5C136.2 229.6 135 229.8 132.5 231C130 232.2 127.5 234.7 125 236C122.5 237.3 120 238.7 117.5 238.7C115 238.7 112.4 236.9 110 236C107.6 235.1 105.2 232.9 103.3 233C101.3 233.1 99.8 235 98.3 236.7C96.8 238.4 95.3 241.1 94.2 243.3C93.1 245.5 92.5 246.9 91.7 250C90.9 253.1 89.9 258.1 89.2 261.7C88.5 265.3 88.2 269.3 87.5 271.7C86.8 274.1 85.7 275.3 85.3 276C83.9 274.7 79.5 271.2 76.7 268.3C73.9 265.4 70.8 261.4 68.3 258.3C65.8 255.2 63.6 253.3 61.7 250C59.9 246.7 58.6 241.9 57.2 238.3C55.9 234.7 54.6 231.6 53.6 228.3C52.6 225 52 221.4 51.1 218.3C50.2 215.2 49.6 212.8 48.3 210C47 207.2 46.1 204 43.3 201.5C40.5 199 35.5 197.3 31.7 195C27.9 192.7 22.4 188.7 20.5 187.4Z"/></clipPath>
<path d="M20.5 187.2C22.4 186.8 27.1 185.4 31.7 184.7C36.3 184 44.1 183.2 48.3 183C52.5 182.8 53.9 183.2 56.7 183.8C59.5 184.4 62 185.8 65 186.7C68 187.6 72 188.7 75 189.5C78 190.3 80.5 191.3 83.3 191.7C86.1 192.1 89.5 192.1 91.7 191.7C93.9 191.3 94.5 190.4 96.7 189.2C98.9 187.9 102.7 185.5 105 184.2C107.3 182.9 109.1 181.6 110.8 181.3C112.5 181 113.5 181.5 115 182.5C116.5 183.5 118.3 185.7 120 187.5C121.7 189.3 122.8 191.5 125 193.3C127.2 195.1 130.3 196.7 133.3 198.3C136.3 199.9 139.4 200.9 143 202.8C146.6 204.7 150.1 206.8 155 209.7C159.9 212.6 169.5 218.4 172.4 220.2C170.8 220.6 165.4 221.8 162.5 222.5C159.6 223.2 158.8 223.7 155 224.7C151.2 225.7 143.8 227.4 140 228.5C136.2 229.6 135 229.8 132.5 231C130 232.2 127.5 234.7 125 236C122.5 237.3 120 238.7 117.5 238.7C115 238.7 112.4 236.9 110 236C107.6 235.1 105.2 232.9 103.3 233C101.3 233.1 99.8 235 98.3 236.7C96.8 238.4 95.3 241.1 94.2 243.3C93.1 245.5 92.5 246.9 91.7 250C90.9 253.1 89.9 258.1 89.2 261.7C88.5 265.3 88.2 269.3 87.5 271.7C86.8 274.1 85.7 275.3 85.3 276C83.9 274.7 79.5 271.2 76.7 268.3C73.9 265.4 70.8 261.4 68.3 258.3C65.8 255.2 63.6 253.3 61.7 250C59.9 246.7 58.6 241.9 57.2 238.3C55.9 234.7 54.6 231.6 53.6 228.3C52.6 225 52 221.4 51.1 218.3C50.2 215.2 49.6 212.8 48.3 210C47 207.2 46.1 204 43.3 201.5C40.5 199 35.5 197.3 31.7 195C27.9 192.7 22.4 188.7 20.5 187.4Z" fill="#c20000"/>
<g clip-path="url(#cc)">
<path d="M79 186 L96 189 L111 179 L117 186 L108 212 L100 234 L89 241 L79 223 L76 204 Z" fill="#b00000" filter="url(#bb16)"/>
<path d="M20 187 C35 183 55 182 75 189" fill="none" stroke="#a00000" stroke-width="8" filter="url(#b2)"/>
<circle cx="22" cy="187" r="10" fill="#840000" filter="url(#b2)"/>
<path d="M34 194 L52 197 L70 199 L75 220 L84 241 L92 246 L90 280 L80 280 L56 246 L44 212 Z" fill="#e00000" filter="url(#b2)"/>
<path d="M60 244 L76 262 L84 256 L88 282 L78 282 Z" fill="#ff1414" filter="url(#b3)"/>
</g>
<clipPath id="cd"><path d="M228 187.4C230.4 187.5 238 187.9 242.5 187.8C247 187.7 250.8 187.7 255 187C259.2 186.3 263.3 185.1 267.5 183.7C271.7 182.3 275.8 180.1 280 178.7C284.2 177.2 288.3 176.2 292.5 175C296.7 173.8 301.2 172.3 305 171.2C308.8 170.1 313.3 168.9 315 168.5C317.5 170 325.4 174.8 330 177.5C334.6 180.2 338.3 182.5 342.5 185C346.7 187.5 350.8 189.8 355 192.5C359.2 195.2 363.3 198.3 367.5 201.2C371.7 204.1 378.2 208.5 380.3 210C378.2 210.8 371.7 213.2 367.5 214.5C363.3 215.8 359.2 216.4 355 217.5C350.8 218.6 346.7 220 342.5 221.2C338.3 222.4 334.1 223.2 330 224.5C325.9 225.8 321.9 228.1 318 229.2C314.1 230.2 310 230.1 306.7 230.8C303.4 231.5 300.4 232.3 298.3 233.3C296.2 234.3 294.9 236.1 294.2 236.7C292.4 236.1 286.5 234.4 283.3 233.3C280.1 232.2 277.8 231.4 275 230C272.2 228.6 269.5 226.9 266.7 225C263.9 223.1 261.1 220.9 258.3 218.3C255.5 215.7 253.5 213.1 250 209.2C246.5 205.3 240.8 198.4 237.5 195C234.2 191.6 231.6 189.9 230 188.7C228.4 187.5 228.3 187.8 228 187.6Z"/></clipPath>
<path d="M228 187.4C230.4 187.5 238 187.9 242.5 187.8C247 187.7 250.8 187.7 255 187C259.2 186.3 263.3 185.1 267.5 183.7C271.7 182.3 275.8 180.1 280 178.7C284.2 177.2 288.3 176.2 292.5 175C296.7 173.8 301.2 172.3 305 171.2C308.8 170.1 313.3 168.9 315 168.5C317.5 170 325.4 174.8 330 177.5C334.6 180.2 338.3 182.5 342.5 185C346.7 187.5 350.8 189.8 355 192.5C359.2 195.2 363.3 198.3 367.5 201.2C371.7 204.1 378.2 208.5 380.3 210C378.2 210.8 371.7 213.2 367.5 214.5C363.3 215.8 359.2 216.4 355 217.5C350.8 218.6 346.7 220 342.5 221.2C338.3 222.4 334.1 223.2 330 224.5C325.9 225.8 321.9 228.1 318 229.2C314.1 230.2 310 230.1 306.7 230.8C303.4 231.5 300.4 232.3 298.3 233.3C296.2 234.3 294.9 236.1 294.2 236.7C292.4 236.1 286.5 234.4 283.3 233.3C280.1 232.2 277.8 231.4 275 230C272.2 228.6 269.5 226.9 266.7 225C263.9 223.1 261.1 220.9 258.3 218.3C255.5 215.7 253.5 213.1 250 209.2C246.5 205.3 240.8 198.4 237.5 195C234.2 191.6 231.6 189.9 230 188.7C228.4 187.5 228.3 187.8 228 187.6Z" fill="#a40000"/>
<g clip-path="url(#cd)">
<path d="M220 180 L320 160 L340 188 L322 192 L303 197.5 L282 203.7 L262 203.5 L245 199.6 L236 194 Z" fill="#930000" filter="url(#b1)"/>
</g>
<text class="pl" x="7.3" y="21.3">a</text>
<text class="pl" x="213" y="21.3">b</text>
<text class="pl" x="7.6" y="179.8">c</text>
<text class="pl" x="212.7" y="180">d</text>
</svg></body></html>
